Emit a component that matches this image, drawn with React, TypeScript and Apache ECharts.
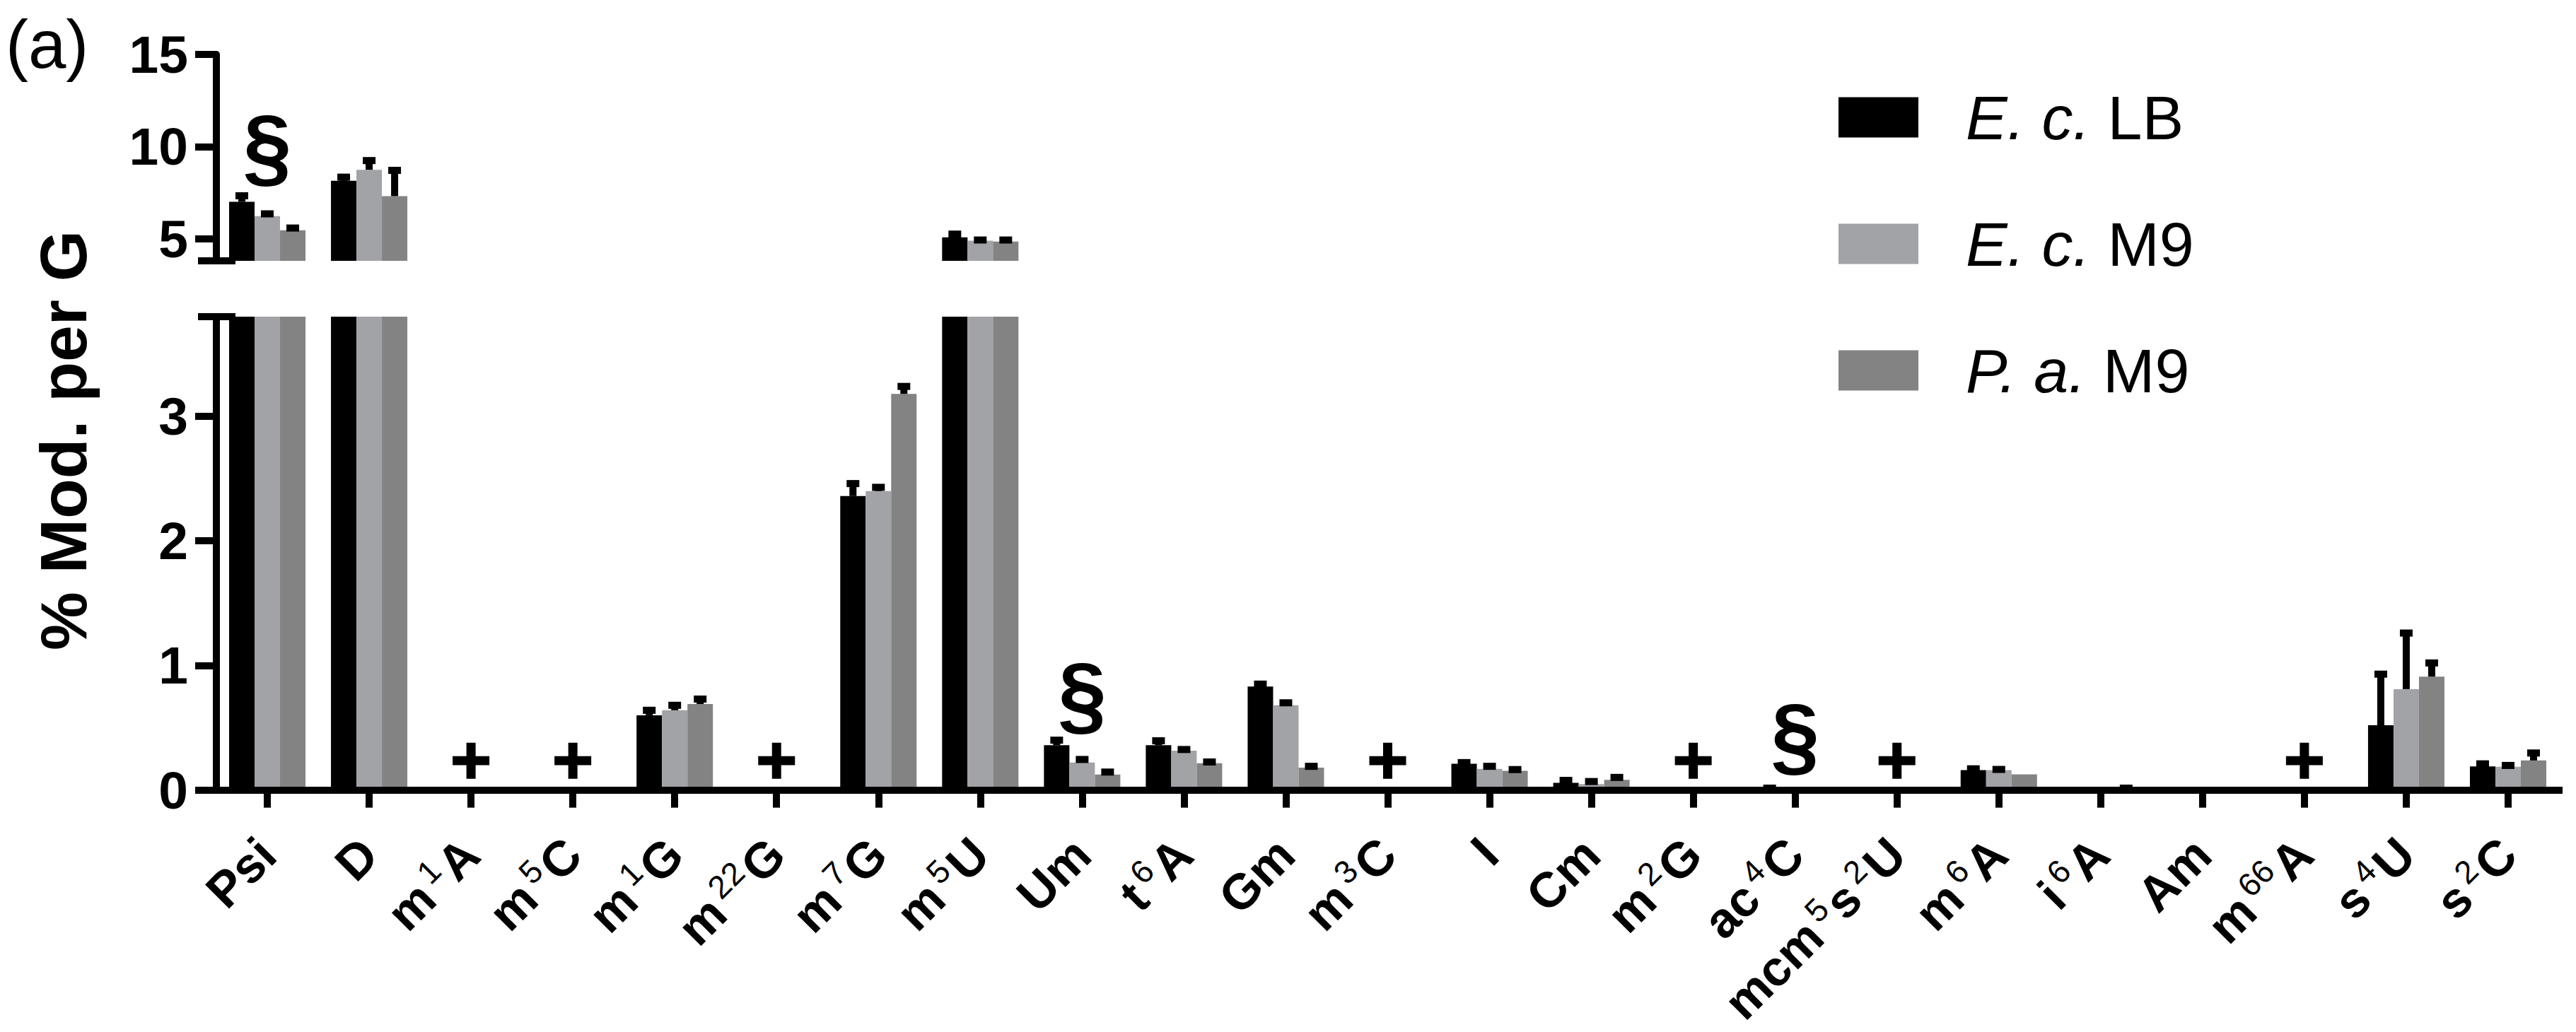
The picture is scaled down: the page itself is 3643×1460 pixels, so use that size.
import React, { useEffect, useRef } from 'react';
import * as echarts from 'echarts';

const categories = ['Psi', 'D', 'm1A', 'm5C', 'm1G', 'm22G', 'm7G', 'm5U', 'Um', 't6A', 'Gm', 'm3C', 'I', 'Cm', 'm2G', 'ac4C', 'mcm5s2U', 'm6A', 'i6A', 'Am', 'm66A', 's4U', 's2C'];
const tickLabels = ['Psi', 'D', 'm{s|1}A', 'm{s|5}C', 'm{s|1}G', 'm{s|22}G', 'm{s|7}G', 'm{s|5}U', 'Um', 't{s|6}A', 'Gm', 'm{s|3}C', 'I', 'Cm', 'm{s|2}G', 'ac{s|4}C', 'mcm{s|5}s{s|2}U', 'm{s|6}A', 'i{s|6}A', 'Am', 'm{s|66}A', 's{s|4}U', 's{s|2}C'];

const seriesNames = ['E. c. LB', 'E. c. M9', 'P. a. M9'];
const speciesParts = ['E. c.', 'E. c.', 'P. a.'];
const mediumParts = ['LB', 'M9', 'M9'];

const ecLB = [7.0, 8.14, 0, 0, 0.6, 0, 2.36, 5.08, 0.36, 0.36, 0.83, 0, 0.21, 0.057, 0, 0, 0, 0.16, 0, 0, 0, 0.52, 0.19];
const ecLBErr = [0.33, 0.2, 0, 0, 0.04, 0, 0.1, 0.17, 0.04, 0.035, 0.02, 0, 0.01, 0.02, 0, 0.015, 0, 0.01, 0, 0, 0, 0.41, 0.02];
const ecM9 = [6.23, 8.74, 0, 0, 0.64, 0, 2.4, 4.89, 0.22, 0.315, 0.68, 0, 0.17, 0.048, 0, 0, 0, 0.16, 0, 0, 0, 0.81, 0.187];
const ecM9Err = [0.12, 0.5, 0, 0, 0.04, 0, 0.03, 0.04, 0.025, 0.01, 0.02, 0, 0.02, 0.02, 0, 0, 0, 0.005, 0, 0, 0, 0.45, 0.01];
const paM9 = [5.46, 7.31, 0, 0, 0.69, 0, 3.18, 4.85, 0.124, 0.215, 0.18, 0, 0.154, 0.081, 0, 0, 0, 0.126, 0, 0.02, 0, 0.91, 0.237];
const paM9Err = [0.12, 1.4, 0, 0, 0.04, 0, 0.06, 0.08, 0.02, 0.01, 0.01, 0, 0.01, 0.02, 0, 0, 0, 0, 0.015, 0, 0, 0.11, 0.06];

// not-detected markers (+) and significance markers (§)
const notDetected = ['m1A', 'm5C', 'm22G', 'm3C', 'm2G', 'mcm5s2U', 'm66A'];
const notDetectedY = 0.235;
const sectionLower = [['Um', 0.77], ['ac4C', 0.44]];
const sectionUpper = [['Psi', 10]];

const upperTicks = [5, 10, 15];
const lowerTicks = [0, 1, 2, 3];
const breakValue = 3.8;
const upperMax = 15;

const colors = ['#000000', '#a2a3a7', '#838383'];
const FONT = '"Liberation Sans", Arial, Helvetica, sans-serif';

const values = [ecLB, ecM9, paM9];
const errors = [ecLBErr, ecM9Err, paM9Err];

function errSeries(k: number, gridIdx: number, yMin: number, yMax: number) {
  return {
    type: 'custom',
    xAxisIndex: gridIdx,
    yAxisIndex: gridIdx,
    z: 5,
    clip: false,
    silent: true,
    data: values[k].map((v, i) => [i, v, errors[k][i]]),
    encode: { x: 0, y: 1 },
    renderItem: (params: any, api: any) => {
      const i = api.value(0);
      const v = api.value(1);
      const e = api.value(2);
      if (!(e > 0)) return null;
      if (v < yMin || v + e > yMax) return null;
      const band = api.size([1, 0])[0];
      const bw = (band * 0.75) / 3;
      const c = api.coord([i, v]);
      const cx = c[0] + (k - 1) * bw;
      const yTop = api.coord([i, v + e])[1];
      return {
        type: 'group',
        children: [
          { type: 'rect', shape: { x: cx - 5, y: yTop, width: 10, height: Math.max(0, c[1] - yTop) }, style: { fill: '#000' } },
          { type: 'rect', shape: { x: cx - 9, y: yTop - 5, width: 18, height: 10 }, style: { fill: '#000' } },
        ],
      };
    },
  };
}

function sectionSeries(gridIdx: number, data: any[]) {
  return {
    type: 'scatter',
    xAxisIndex: gridIdx,
    yAxisIndex: gridIdx,
    z: 6,
    silent: true,
    symbol: 'rect',
    symbolSize: 2,
    itemStyle: { color: 'rgba(0,0,0,0)', opacity: 1 },
    label: {
      show: true,
      position: 'inside',
      formatter: '§',
      fontSize: 124,
      fontWeight: 'bold',
      fontFamily: FONT,
      color: '#000',
    },
    labelLayout: { hideOverlap: false },
    data,
  };
}

export default function App() {
  const ref = useRef<HTMLDivElement>(null);
  useEffect(() => {
    if (!ref.current) return;
    const chart = echarts.init(ref.current, null, { renderer: 'svg' });

    const yAxisCommon = {
      type: 'value',
      axisLine: { show: true, lineStyle: { color: '#000', width: 10 } },
      splitLine: { show: false },
      axisLabel: { color: '#000', fontSize: 75, fontWeight: 'bold', fontFamily: FONT, margin: 40 },
    };

    const barSeries: any[] = [];
    for (let g = 0; g < 2; g++) {
      for (let k = 0; k < 3; k++) {
        barSeries.push({
          type: 'bar',
          name: seriesNames[k],
          xAxisIndex: g,
          yAxisIndex: g,
          data: values[k],
          barGap: '0%',
          barCategoryGap: '25%',
          clip: true,
          itemStyle: { color: colors[k] },
          silent: true,
        });
      }
    }

    const option: any = {
      animation: false,
      backgroundColor: '#ffffff',
      textStyle: { fontFamily: FONT },
      legend: {
        data: seriesNames,
        orient: 'vertical',
        left: 2600,
        top: 122,
        padding: 0,
        itemWidth: 113,
        itemHeight: 57,
        itemGap: 91,
        icon: 'rect',
        selectedMode: false,
        formatter: (name: string) => {
          const idx = seriesNames.indexOf(name);
          return `{i|${speciesParts[idx]}} ${mediumParts[idx]}`;
        },
        textStyle: {
          color: '#000',
          fontSize: 88,
          fontFamily: FONT,
          lineHeight: 57,
          rich: {
            i: { fontSize: 88, fontStyle: 'italic', fontFamily: FONT, color: '#000', lineHeight: 57, padding: [0, 0, 0, 62] },
          },
        },
      },
      grid: [
        { left: 306, right: 24, top: 77, bottom: 1091, containLabel: false },
        { left: 306, right: 24, top: 448, bottom: 329.4, containLabel: false },
      ],
      xAxis: [
        { type: 'category', gridIndex: 0, data: categories, show: false },
        {
          type: 'category',
          gridIndex: 1,
          data: categories,
          z: 10,
          axisLine: { show: true, onZero: false, lineStyle: { color: '#000', width: 10, cap: 'square' } },
          axisTick: { show: true, alignWithLabel: true, length: 25, lineStyle: { color: '#000', width: 10 } },
          axisLabel: {
            interval: 0,
            rotate: 45,
            margin: 80,
            color: '#000',
            fontSize: 70,
            fontWeight: 'bold',
            fontFamily: FONT,
            lineHeight: 80,
            formatter: (_v: string, idx: number) => tickLabels[idx],
            rich: {
              s: { fontSize: 46, fontWeight: 'normal', fontFamily: FONT, color: '#000', lineHeight: 56, verticalAlign: 'top', padding: [0, 4, 0, 8] },
            },
          },
        },
      ],
      yAxis: [
        {
          ...yAxisCommon,
          gridIndex: 0,
          min: breakValue,
          max: upperMax,
          axisTick: { show: true, length: 30, lineStyle: { color: '#000', width: 10 }, customValues: upperTicks },
          axisLabel: { ...yAxisCommon.axisLabel, customValues: upperTicks },
        },
        {
          ...yAxisCommon,
          gridIndex: 1,
          min: 0,
          max: breakValue,
          axisTick: { show: true, length: 30, lineStyle: { color: '#000', width: 10 }, customValues: lowerTicks },
          axisLabel: { ...yAxisCommon.axisLabel, customValues: lowerTicks },
        },
      ],
      series: [
        ...barSeries,
        errSeries(0, 0, breakValue, upperMax),
        errSeries(1, 0, breakValue, upperMax),
        errSeries(2, 0, breakValue, upperMax),
        errSeries(0, 1, 0, breakValue),
        errSeries(1, 1, 0, breakValue),
        errSeries(2, 1, 0, breakValue),
        {
          type: 'scatter',
          xAxisIndex: 1,
          yAxisIndex: 1,
          z: 6,
          silent: true,
          symbol: 'path://M7.5,0H12.5V7.5H20V12.5H12.5V20H7.5V12.5H0V7.5H7.5Z',
          symbolSize: [52, 51],
          itemStyle: { color: '#000', opacity: 1 },
          data: notDetected.map((c) => [c, notDetectedY]),
        },
        sectionSeries(1, sectionLower),
        sectionSeries(0, sectionUpper),
      ],
      graphic: [
        {
          type: 'text',
          x: 8,
          y: 62,
          z: 20,
          style: { text: '(a)', fontSize: 96, fontFamily: FONT, fill: '#000', align: 'left', verticalAlign: 'middle', textAlign: 'left', textVerticalAlign: 'middle' },
        },
        {
          type: 'text',
          x: 90,
          y: 623,
          rotation: Math.PI / 2,
          z: 20,
          style: { text: '% Mod. per G', fontSize: 93, fontWeight: 'bold', fontFamily: FONT, fill: '#000', align: 'center', verticalAlign: 'middle', textAlign: 'center', textVerticalAlign: 'middle' },
        },
        { type: 'rect', z: 20, shape: { x: 280, y: 364, width: 53, height: 10 }, style: { fill: '#000' } },
        { type: 'rect', z: 20, shape: { x: 280, y: 443, width: 53, height: 10 }, style: { fill: '#000' } },
      ],
    };

    chart.setOption(option);
    return () => {
      chart.dispose();
    };
  }, []);

  return (
    <div
      ref={ref}
      style={{ position: 'absolute', left: 0, top: 0, width: 3643, height: 1460, background: '#fff' }}
    />
  );
}
